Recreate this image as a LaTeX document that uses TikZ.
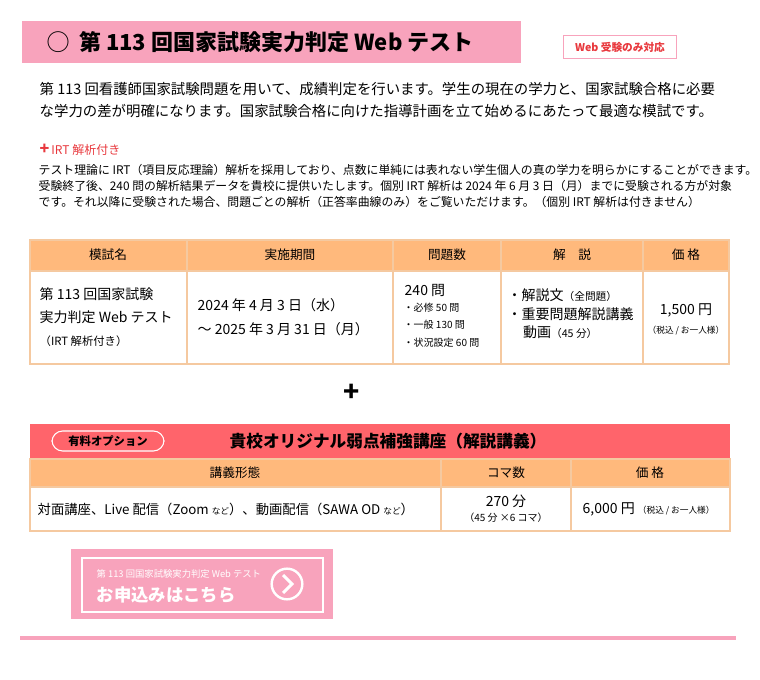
\documentclass[tikz,border=0pt]{standalone}
\usepackage{fontspec}
\setmainfont{Noto Sans CJK JP}
\usetikzlibrary{positioning}
\definecolor{titlepink}{HTML}{F8A3BC}
\definecolor{headorange}{HTML}{FFB97C}
\definecolor{optred}{HTML}{FF646B}
\definecolor{ircross}{HTML}{E8383D}
\definecolor{gridline}{HTML}{F5C9A0}
\tikzset{
    cell/.style={draw=gridline, line width=0.8pt},
    headtxt/.style={font=\fontsize{9.5}{11}\selectfont, anchor=center},
    bodytxt/.style={font=\fontsize{10}{14}\selectfont, align=left, anchor=west},
    smalltxt/.style={font=\fontsize{6.5}{9}\selectfont}
}
\begin{document}
\begin{tikzpicture}[x=0.75pt, y=-0.75pt]
    \useasboundingbox (0,0) rectangle (760,680);
    % title
    \fill[titlepink] (22,21) rectangle (521,63);
    \node[anchor=west, font=\fontsize{16.5}{18}\selectfont\bfseries] (title) at (43,42) {◯\hspace{7pt}第 113 回国家試験実力判定 Web テスト};
    \node[draw=titlepink, line width=0.8pt, text=ircross, minimum width=85pt, minimum height=17pt, font=\fontsize{8}{10}\selectfont\bfseries] (web) at (620,47) {Web 受験のみ対応};
    % intro
    \node[anchor=west, font=\fontsize{10.8}{16.5}\selectfont, align=left] (intro) at (35,100) {第 113 回看護師国家試験問題を用いて、成績判定を行います。学生の現在の学力と、国家試験合格に必要\\な学力の差が明確になります。国家試験合格に向けた指導計画を立て始めるにあたって最適な模試です。};
    \node[anchor=west, text=ircross, font=\fontsize{9}{11}\selectfont] (irt) at (35,150) {\textbf{\large+}\,IRT 解析付き};
    \node[anchor=west, font=\fontsize{8.9}{12}\selectfont, align=left] (irtbody) at (34,186) {テスト理論に IRT（項目反応理論）解析を採用しており、点数に単純には表れない学生個人の真の学力を明らかにすることができます。\\受験終了後、240 問の解析結果データを貴校に提供いたします。個別 IRT 解析は 2024 年 6 月 3 日（月）までに受験される方が対象\\です。それ以降に受験された場合、問題ごとの解析（正答率曲線のみ）をご覧いただけます。（個別 IRT 解析は付きません）};
    % table 1
    \fill[headorange] (30,240) rectangle (729,271);
    \foreach \xa/\xb in {30/187,187/393,393/501,501/643,643/729}{
        \draw[cell] (\xa,240) rectangle (\xb,271);
        \draw[cell] (\xa,271) rectangle (\xb,364);
    }
    \node[headtxt] (h1) at (108,255) {模試名};
    \node[headtxt] (h2) at (290,255) {実施期間};
    \node[headtxt] (h3) at (447,255) {問題数};
    \node[headtxt] (h4) at (572,255) {解\quad 説};
    \node[headtxt] (h5) at (686,255) {価 格};
    \node[bodytxt, font=\fontsize{10.5}{17}\selectfont] (name) at (35,317) {第 113 回国家試験\\実力判定 Web テスト\\{\fontsize{8.5}{10}\selectfont （IRT 解析付き）}};
    \node[bodytxt, font=\fontsize{10.5}{18}\selectfont] (period) at (193,317) {2024 年 4 月 3 日（水）\\～ 2025 年 3 月 31 日（月）};
    \node[bodytxt, font=\fontsize{10.5}{14}\selectfont] (qnum) at (400,290) {240 問};
    \node[bodytxt, font=\fontsize{7.5}{13}\selectfont] (qsub) at (399,325) {・必修 50 問\\・一般 130 問\\・状況設定 60 問};
    \node[bodytxt, font=\fontsize{10.5}{14}\selectfont] (expl) at (503,314) {・解説文{\fontsize{8}{10}\selectfont （全問題）}\\・重要問題解説講義\\\hspace{1.1em}動画{\fontsize{8}{10}\selectfont （45 分）}};
    \node[font=\fontsize{10.5}{12}\selectfont] (price) at (686,310) {1,500 円};
    \node[smalltxt, below=0pt of price] (tax) {（税込 / お一人様）};
    \node[font=\fontsize{20}{20}\selectfont\bfseries] (plus) at (352,393) {+};
    % table 2
    \fill[optred] (30,424) rectangle (730,459);
    \node[draw=white, thick, rounded corners=8pt, minimum width=84pt, minimum height=15pt, font=\fontsize{8.5}{10}\selectfont\bfseries] (opt) at (108,441) {有料オプション};
    \node[font=\fontsize{12.5}{14}\selectfont\bfseries] (opttitle) at (388,441) {貴校オリジナル弱点補強講座（解説講義）};
    \fill[headorange] (30,459) rectangle (730,487);
    \foreach \xa/\xb in {30/441,441/571,571/730}{
        \draw[cell] (\xa,459) rectangle (\xb,487);
        \draw[cell] (\xa,487) rectangle (\xb,531);
    }
    \node[headtxt] (g1) at (235,473) {講義形態};
    \node[headtxt] (g2) at (506,473) {コマ数};
    \node[headtxt] (g3) at (650,473) {価 格};
    \node[bodytxt, font=\fontsize{10}{12}\selectfont] (form) at (33,509) {対面講座、Live 配信（Zoom {\fontsize{6.5}{8}\selectfont など}）、動画配信（SAWA OD {\fontsize{6.5}{8}\selectfont など}）};
    \node[font=\fontsize{10.5}{12}\selectfont] (koma) at (506,501) {270 分};
    \node[font=\fontsize{7.5}{9}\selectfont] (komasub) at (506,518) {（45 分 ×6 コマ）};
    \node[anchor=west, font=\fontsize{10.5}{12}\selectfont] (price2) at (578,509) {6,000 円 {\fontsize{6.5}{8}\selectfont （税込 / お一人様）}};
    % button
    \fill[titlepink] (71,549) rectangle (333,619);
    \draw[white, line width=1.5pt] (82,558) rectangle (323,612);
    \node[anchor=west, text=white, font=\fontsize{7}{9}\selectfont] (btnsub) at (92,574) {第 113 回国家試験実力判定 Web テスト};
    \node[anchor=west, text=white, font=\fontsize{13}{15}\selectfont\bfseries] (btnmain) at (92,595) {お申込みはこちら};
    \node[draw=white, circle, line width=1.8pt, minimum size=23pt, text=white] (go) at (287,584) {};
    \draw[white, line width=2.2pt] (283,575) -- (292,584) -- (283,593);
    % bottom rule
    \draw[titlepink, line width=3pt] (20,638) -- (736,638);
\end{tikzpicture}
\end{document}
